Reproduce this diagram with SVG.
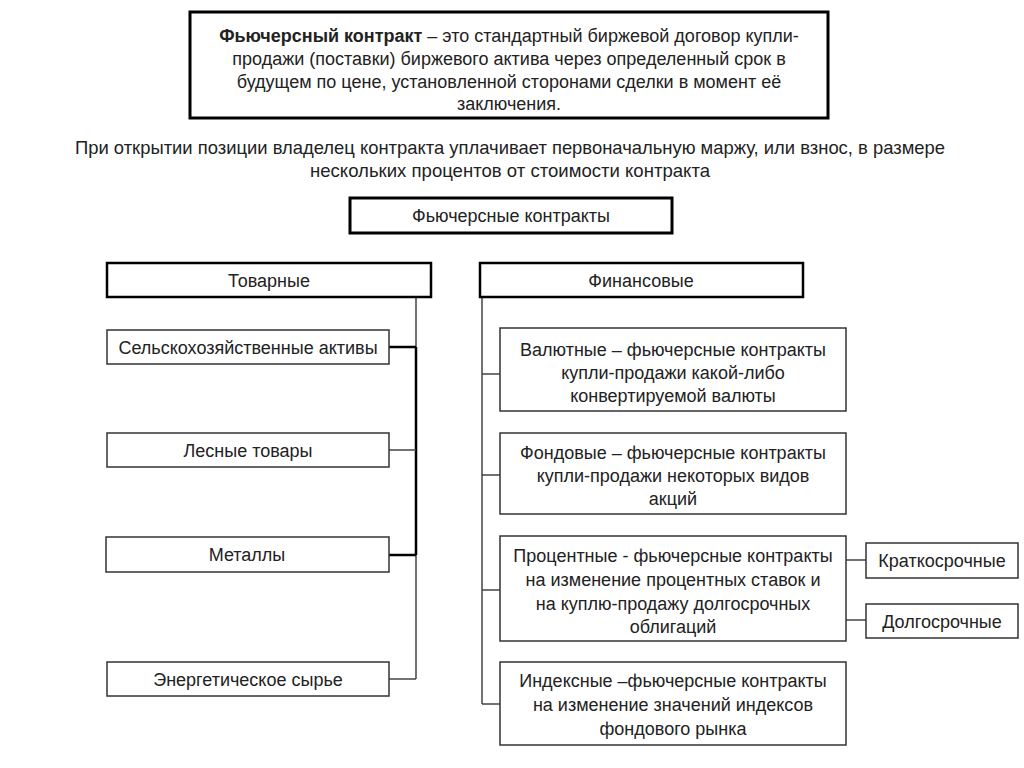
<svg xmlns="http://www.w3.org/2000/svg" width="1024" height="768" viewBox="0 0 1024 768">
<style>
text{font-family:"Liberation Sans",Arial,sans-serif;font-size:18px;fill:#222;text-anchor:middle}
.thick{fill:#fff;stroke:#000;stroke-width:3}
.mid{fill:#fff;stroke:#000;stroke-width:2.5}
.thin{fill:#fff;stroke:#333;stroke-width:1.5}
.c{fill:none;stroke:#444;stroke-width:1.5}
.cb{fill:none;stroke:#000;stroke-width:2.5}
.cond{font-size:19px}
</style>
<rect width="1024" height="768" fill="#fff"/>
<g id="definition">
<rect class="thick" x="190" y="12" width="638" height="106"/>
<text x="509" y="42"><tspan font-weight="bold">Фьючерсный контракт</tspan> – это стандартный биржевой договор купли-</text>
<text x="509" y="65">продажи (поставки) биржевого актива через определенный срок в</text>
<text x="509" y="88">будущем по цене, установленной сторонами сделки в момент её</text>
<text x="509" y="110">заключения.</text>
</g>
<g id="note">
<text class="cond" x="510" y="154" textLength="870" lengthAdjust="spacingAndGlyphs">При открытии позиции владелец контракта уплачивает первоначальную маржу, или взнос, в размере</text>
<text class="cond" x="510" y="177" textLength="400" lengthAdjust="spacingAndGlyphs">нескольких процентов от стоимости контракта</text>
</g>
<g id="connectors">
<path class="c" d="M416,297 V347 M416,555 V679 M389,679 H416"/>
<path class="cb" d="M416,347 V555 M389,347 H416 M389,555 H416"/>
<path class="c" d="M389,450 H416"/>
<path class="c" d="M482,297 V704 M482,374 H500 M482,475 H500 M482,590 H500 M482,704 H500"/>
<path class="c" d="M846,560 H866 M846,620 H866"/>
</g>
<g id="root">
<rect class="thick" x="350" y="198" width="322" height="35"/>
<text x="511" y="222">Фьючерсные контракты</text>
</g>
<g id="tovarnye">
<rect class="mid" x="107" y="263" width="324" height="34"/>
<text x="269" y="287">Товарные</text>
</g>
<g id="finansovye">
<rect class="mid" x="480" y="263" width="323" height="34"/>
<text x="641" y="287">Финансовые</text>
</g>
<g id="selskohoz">
<rect class="thin" x="107" y="330" width="282" height="34"/>
<text x="248" y="354">Сельскохозяйственные активы</text>
</g>
<g id="lesnye">
<rect class="thin" x="107" y="433" width="282" height="34"/>
<text x="248" y="457">Лесные товары</text>
</g>
<g id="metally">
<rect class="thin" x="106" y="537" width="283" height="35"/>
<text x="247" y="561">Металлы</text>
</g>
<g id="energy">
<rect class="thin" x="107" y="662" width="282" height="34"/>
<text x="248" y="686">Энергетическое сырье</text>
</g>
<g id="valyutnye">
<rect class="thin" x="500" y="328" width="346" height="83"/>
<text x="673" y="356">Валютные – фьючерсные контракты</text>
<text x="673" y="379">купли-продажи какой-либо</text>
<text x="673" y="402">конвертируемой валюты</text>
</g>
<g id="fondovye">
<rect class="thin" x="500" y="433" width="346" height="81"/>
<text x="673" y="459">Фондовые – фьючерсные контракты</text>
<text x="673" y="482">купли-продажи некоторых видов</text>
<text x="673" y="505">акций</text>
</g>
<g id="procentnye">
<rect class="thin" x="500" y="536" width="346" height="105"/>
<text x="673" y="562">Процентные - фьючерсные контракты</text>
<text x="673" y="586">на изменение процентных ставок и</text>
<text x="673" y="610">на куплю-продажу долгосрочных</text>
<text x="673" y="633">облигаций</text>
</g>
<g id="indeksnye">
<rect class="thin" x="500" y="662" width="346" height="83"/>
<text x="673" y="687">Индексные –фьючерсные контракты</text>
<text x="673" y="711">на изменение значений индексов</text>
<text x="673" y="735">фондового рынка</text>
</g>
<g id="kratkosrochnye">
<rect class="thin" x="866" y="543" width="152" height="35"/>
<text x="942" y="567">Краткосрочные</text>
</g>
<g id="dolgosrochnye">
<rect class="thin" x="866" y="604" width="152" height="34"/>
<text x="942" y="628">Долгосрочные</text>
</g>
</svg>
